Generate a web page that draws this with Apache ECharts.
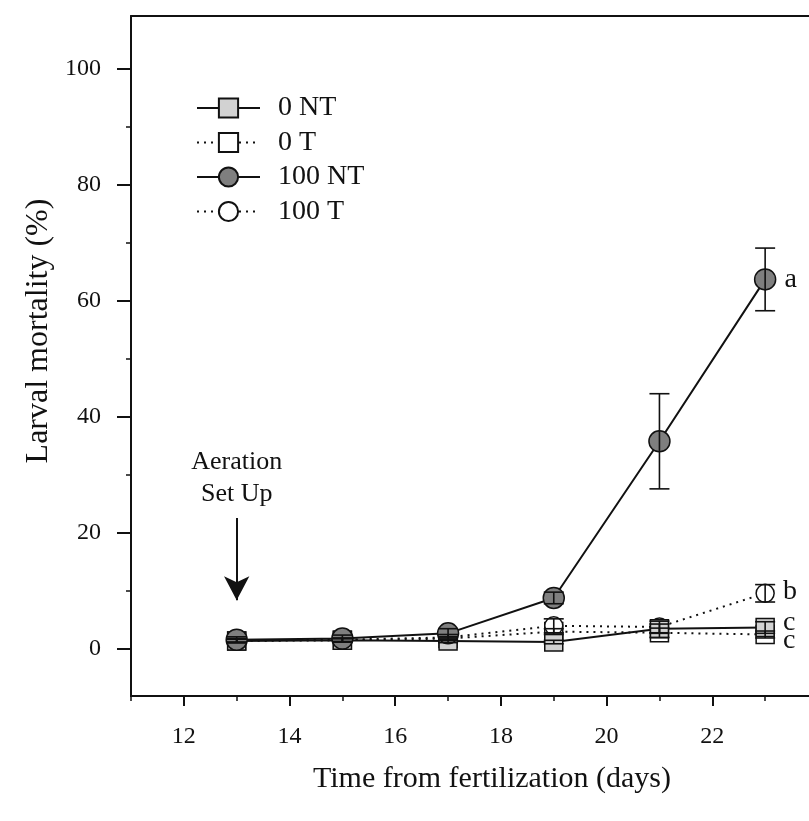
<!DOCTYPE html>
<html>
<head>
<meta charset="utf-8">
<script src="https://cdn.jsdelivr.net/npm/echarts@6/dist/echarts.min.js"></script>
<style>html,body{margin:0;padding:0;background:#fff}#c{width:809px;height:821px}</style>
</head>
<body>
<div id="c"></div>
<script>
const days = [13, 15, 17, 19, 21, 23];
const nt0 = [1.4, 1.5, 1.4, 1.2, 3.5, 3.7];
const nt0Err = [0.3, 0.3, 0.3, 0.3, 0.8, 1.0];
const t0 = [1.4, 1.5, 1.8, 3.0, 2.8, 2.5];
const t0Err = [0.3, 0.3, 0.3, 0.5, 0.8, 0.6];
const nt100 = [1.6, 1.8, 2.7, 8.8, 35.8, 63.7];
const nt100Err = [0.5, 0.6, 0.8, 1.0, 8.2, 5.4];
const t100 = [1.5, 1.6, 2.0, 4.0, 3.8, 9.6];
const t100Err = [0.3, 0.3, 0.5, 1.2, 1.0, 1.5];
const letters = {nt0: 'c', t0: 'c', nt100: 'a', t100: 'b'};
const yMajor = [0, 20, 40, 60, 80, 100];
const yMinor = [10, 30, 50, 70, 90];
const xMajor = [12, 14, 16, 18, 20, 22];
const xMinor = [11, 13, 15, 17, 19, 21, 23];
const arrowFrom = [13, 22.6], arrowTo = [13, 8.4];
const noteAt = [13, 29.5];

const FONT = '"Liberation Serif", "Times New Roman", serif';
const INK = '#111';

function pts(ys) { return days.map((d, i) => [d, ys[i]]); }
function withLetter(ys, letter, offset) {
  const arr = pts(ys);
  const last = arr.length - 1;
  arr[last] = {value: arr[last], label: {show: true, position: 'right', distance: 8, formatter: letter,
    fontFamily: FONT, fontSize: 28, color: INK, offset: offset}};
  return arr;
}
function errData(ys, es) { return days.map((d, i) => [d, ys[i], es[i]]); }
function renderErr(params, api) {
  const x = api.value(0), y = api.value(1), e = api.value(2);
  const hi = api.coord([x, y + e]), lo = api.coord([x, y - e]);
  const w = 10;
  const st = {stroke: INK, lineWidth: 1.6};
  return {type: 'group', children: [
    {type: 'line', shape: {x1: hi[0], y1: hi[1], x2: lo[0], y2: lo[1]}, style: st},
    {type: 'line', shape: {x1: hi[0] - w, y1: hi[1], x2: hi[0] + w, y2: hi[1]}, style: st},
    {type: 'line', shape: {x1: lo[0] - w, y1: lo[1], x2: lo[0] + w, y2: lo[1]}, style: st}
  ]};
}

const chart = echarts.init(document.getElementById('c'), null, {renderer: 'canvas'});
const option = {
  animation: false,
  backgroundColor: '#fff',
  textStyle: {fontFamily: FONT, color: INK},
  grid: {left: 131, right: 0, top: 16, bottom: 125, containLabel: false},
  legend: {
    orient: 'vertical', left: 191, top: 89,
    itemWidth: 63, itemHeight: 24, itemGap: 6.5,
    data: ['0 NT', '0 T', '100 NT', '100 T'],
    textStyle: {fontFamily: FONT, fontSize: 28, color: INK, lineHeight: 24, padding: [0, 0, 0, 13]}
  },
  xAxis: [
    {type: 'value', min: 11, max: 23.83, position: 'bottom',
      name: 'Time from fertilization (days)', nameLocation: 'middle', nameGap: 68,
      nameTextStyle: {fontFamily: FONT, fontSize: 30, color: INK, padding: [0, 0, 0, 44]},
      axisLine: {show: true, onZero: false, lineStyle: {color: INK, width: 2}},
      axisTick: {show: true, length: 10, customValues: xMajor, lineStyle: {color: INK, width: 2}},
      axisLabel: {show: true, customValues: xMajor, margin: 29, fontFamily: FONT, fontSize: 24, color: INK},
      splitLine: {show: false}},
    {type: 'value', min: 11, max: 23.83, position: 'bottom',
      axisLine: {show: false, onZero: false},
      axisTick: {show: true, length: 5, customValues: xMinor, lineStyle: {color: INK, width: 1.5}},
      axisLabel: {show: false}, splitLine: {show: false}},
    {type: 'value', min: 11, max: 23.83, position: 'top',
      axisLine: {show: true, onZero: false, lineStyle: {color: INK, width: 2}},
      axisTick: {show: false}, axisLabel: {show: false}, splitLine: {show: false}}
  ],
  yAxis: [
    {type: 'value', min: -8.1, max: 109.1, position: 'left',
      name: 'Larval mortality (%)', nameLocation: 'middle', nameGap: 74, nameRotate: 90,
      nameTextStyle: {fontFamily: FONT, fontSize: 32, color: INK, padding: [0, 0, 0, 50]},
      axisLine: {show: true, onZero: false, lineStyle: {color: INK, width: 2}},
      axisTick: {show: true, length: 14, customValues: yMajor, lineStyle: {color: INK, width: 2}},
      axisLabel: {show: true, customValues: yMajor, margin: 30, fontFamily: FONT, fontSize: 24, color: INK},
      splitLine: {show: false}},
    {type: 'value', min: -8.1, max: 109.1, position: 'left',
      axisLine: {show: false, onZero: false},
      axisTick: {show: true, length: 5, customValues: yMinor, lineStyle: {color: INK, width: 1.5}},
      axisLabel: {show: false}, splitLine: {show: false}}
  ],
  series: [
    {name: '0 T', type: 'line', data: withLetter(t0, letters.t0, [0, 6]), symbol: 'rect', symbolSize: 18,
      lineStyle: {color: INK, width: 2, type: [2, 5]},
      itemStyle: {color: '#ffffff', borderColor: INK, borderWidth: 1.5}, z: 2},
    {name: '100 T', type: 'line', data: withLetter(t100, letters.t100, [0, -2]), symbol: 'circle', symbolSize: 18,
      lineStyle: {color: INK, width: 2, type: [2, 5]},
      itemStyle: {color: '#ffffff', borderColor: INK, borderWidth: 1.5}, z: 3},
    {name: '0 NT', type: 'line', data: withLetter(nt0, letters.nt0, [0, -5]), symbol: 'rect', symbolSize: 18,
      lineStyle: {color: INK, width: 2},
      itemStyle: {color: '#d2d2d2', borderColor: INK, borderWidth: 1.5}, z: 4,
      markLine: {silent: true, symbol: ['none', 'arrow'], symbolSize: [19, 24],
        lineStyle: {color: INK, width: 2, type: 'solid'}, label: {show: false},
        data: [[{coord: arrowFrom}, {coord: arrowTo}]]},
      markPoint: {silent: true, symbol: 'circle', symbolSize: 0,
        data: [{coord: noteAt, label: {show: true, position: 'inside', formatter: 'Aeration\nSet Up',
          fontFamily: FONT, fontSize: 26, lineHeight: 32, color: INK, align: 'center'}}]}},
    {name: '100 NT', type: 'line', data: withLetter(nt100, letters.nt100, [0, 0]), symbol: 'circle', symbolSize: 21,
      lineStyle: {color: INK, width: 2},
      itemStyle: {color: '#7f7f7f', borderColor: INK, borderWidth: 1.5}, z: 5},
    {type: 'custom', renderItem: renderErr, data: errData(t0, t0Err), z: 6},
    {type: 'custom', renderItem: renderErr, data: errData(t100, t100Err), z: 6},
    {type: 'custom', renderItem: renderErr, data: errData(nt0, nt0Err), z: 6},
    {type: 'custom', renderItem: renderErr, data: errData(nt100, nt100Err), z: 6}
  ]
};
chart.setOption(option);
</script>
</body>
</html>
